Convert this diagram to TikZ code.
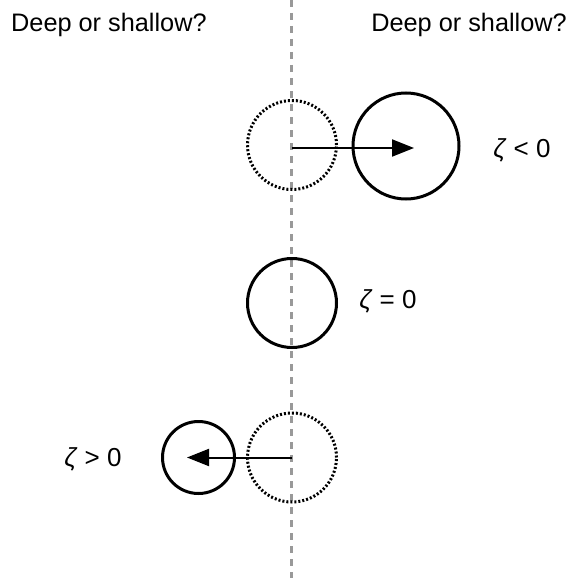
\documentclass[tikz,border=0pt]{standalone}
\usepackage{fontspec}
\setmainfont{Liberation Sans}
\usetikzlibrary{arrows.meta}
\begin{document}
\begin{tikzpicture}[x=1pt,y=-1pt,
  lbl/.style={font=\fontsize{26}{31}\selectfont, inner sep=0pt},
  ttl/.style={font=\fontsize{25.3}{30}\selectfont, inner sep=0pt},
  solidc/.style={circle, draw, line width=3pt, inner sep=0pt},
  dotc/.style={circle, draw, line width=3pt, inner sep=0pt, dash pattern=on 2pt off 2pt},
  move/.style={line width=2pt, -{Triangle[length=22pt,width=17pt]}},
  axis/.style={draw=black!40, line width=3pt, dash pattern=on 7pt off 6pt}]
\useasboundingbox (0,0) rectangle (573,578);
\coordinate (top) at (291.5,0);
\coordinate (bot) at (291.5,578);
\draw[axis] (top) -- (bot);
\node[ttl, anchor=base west] (tl) at (11,32) {Deep or shallow?};
\node[ttl, anchor=base east] (tr) at (567,32) {Deep or shallow?};
% top
\node[dotc, minimum size=89pt] (d1) at (292,145) {};
\node[solidc, minimum size=106pt] (s1) at (406,146) {};
\coordinate (t1) at (414,148);
\draw[move] (d1.center |- t1) -- (t1);
\node[lbl] (z1) at (522,150) {\textit{ζ} < 0};
% middle
\node[solidc, minimum size=89pt] (s2) at (292,303) {};
\node[lbl] (z2) at (388,301) {\textit{ζ} = 0};
% bottom
\node[dotc, minimum size=89pt] (d3) at (292,457.5) {};
\node[solidc, minimum size=72pt] (s3) at (198.5,457.5) {};
\coordinate (t3) at (187,457.5);
\draw[move] (d3.center) -- (t3);
\node[lbl] (z3) at (93,459) {\textit{ζ} > 0};
\end{tikzpicture}
\end{document}
